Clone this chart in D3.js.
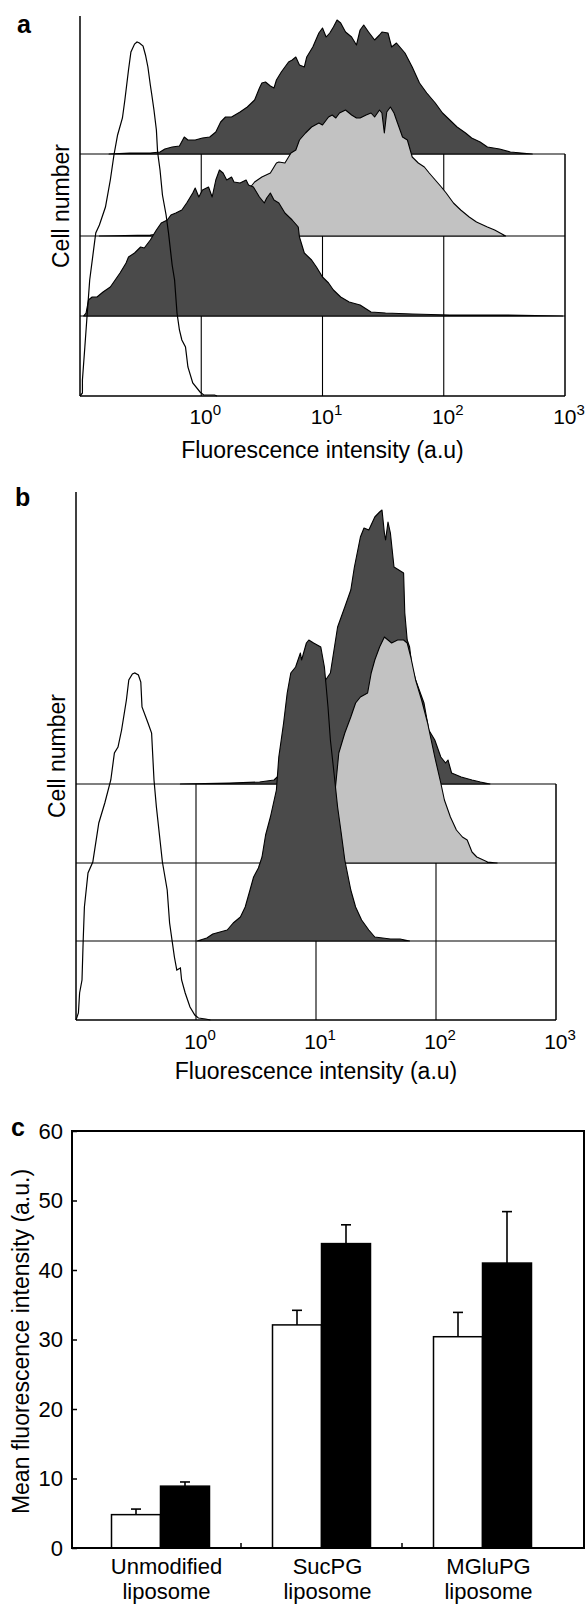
<!DOCTYPE html>
<html><head><meta charset="utf-8">
<script src="https://cdn.jsdelivr.net/npm/d3@7"></script>
<style>body{margin:0;background:#fff} svg{display:block}</style>
</head><body><svg id="fig" width="586" height="1607"></svg>
<script>
// ---------- DATA ----------
// Flow cytometry histograms: [log10 fluorescence intensity (a.u), cell count]
const histA_open = [[-1.00,0],[-0.98,3],[-0.98,16],[-0.96,49],[-0.94,83],[-0.92,116],[-0.87,163],[-0.84,171],[-0.79,189],[-0.75,216],[-0.72,241],[-0.69,261],[-0.65,278],[-0.63,296],[-0.60,326],[-0.58,344],[-0.55,352],[-0.53,354],[-0.51,353],[-0.48,350],[-0.46,341],[-0.44,329],[-0.42,311],[-0.41,303],[-0.39,286],[-0.37,266],[-0.36,244],[-0.34,226],[-0.32,201],[-0.29,181],[-0.27,163],[-0.24,131],[-0.22,116],[-0.20,83],[-0.18,66],[-0.16,56],[-0.13,49],[-0.11,29],[-0.07,13],[-0.01,4],[0.02,1],[0.11,1],[0.13,0]];
const histA_lower = [[-0.97,0],[-0.95,3],[-0.93,16],[-0.90,19],[-0.86,19],[-0.81,24],[-0.75,29],[-0.71,36],[-0.67,43],[-0.62,53],[-0.60,59],[-0.55,63],[-0.50,69],[-0.47,68],[-0.42,76],[-0.37,86],[-0.33,93],[-0.28,96],[-0.25,101],[-0.21,103],[-0.16,106],[-0.12,113],[-0.07,123],[-0.05,128],[-0.02,119],[0.01,126],[0.06,129],[0.09,119],[0.12,136],[0.15,146],[0.18,143],[0.21,136],[0.25,139],[0.27,134],[0.32,133],[0.37,136],[0.39,131],[0.43,129],[0.48,119],[0.52,113],[0.54,118],[0.57,123],[0.60,116],[0.64,113],[0.69,103],[0.75,96],[0.80,89],[0.81,79],[0.85,63],[0.91,56],[0.95,49],[1.00,39],[1.05,33],[1.09,26],[1.15,19],[1.22,14],[1.31,11],[1.40,4],[1.52,3],[1.74,2],[2.05,1],[2.46,1],[2.98,0]];
const histA_gray = [[-0.84,0],[-0.42,1],[-0.09,6],[0.15,21],[0.32,36],[0.44,54],[0.50,59],[0.57,63],[0.62,73],[0.64,74],[0.69,73],[0.74,83],[0.78,86],[0.81,96],[0.86,103],[0.91,109],[0.97,113],[1.00,111],[1.05,119],[1.08,121],[1.11,118],[1.14,123],[1.19,126],[1.24,121],[1.28,118],[1.31,118],[1.36,121],[1.40,123],[1.43,119],[1.47,126],[1.49,123],[1.51,103],[1.53,124],[1.56,129],[1.59,123],[1.61,116],[1.66,99],[1.70,96],[1.74,79],[1.79,73],[1.84,69],[1.88,63],[1.93,56],[1.98,49],[2.02,43],[2.08,33],[2.14,26],[2.21,19],[2.27,14],[2.36,9],[2.42,6],[2.48,2],[2.51,0]];
const histA_top = [[-0.76,0],[-0.59,1],[-0.42,1],[-0.34,2],[-0.30,5],[-0.24,7],[-0.18,8],[-0.14,17],[-0.11,14],[-0.05,14],[0.01,16],[0.07,17],[0.12,22],[0.16,32],[0.20,37],[0.25,37],[0.32,42],[0.38,47],[0.44,54],[0.48,66],[0.50,71],[0.53,72],[0.57,68],[0.60,66],[0.62,74],[0.66,82],[0.69,87],[0.72,92],[0.75,94],[0.78,97],[0.81,89],[0.85,87],[0.87,97],[0.92,107],[0.97,121],[1.00,126],[1.03,117],[1.06,121],[1.09,127],[1.12,134],[1.15,131],[1.19,122],[1.24,117],[1.28,109],[1.31,124],[1.34,129],[1.38,122],[1.43,114],[1.47,119],[1.49,122],[1.54,121],[1.57,107],[1.61,111],[1.68,101],[1.74,87],[1.80,71],[1.86,61],[1.93,51],[1.99,41],[2.05,34],[2.11,27],[2.18,21],[2.23,16],[2.30,12],[2.36,7],[2.46,5],[2.55,2],[2.64,1],[2.73,0]];

const histB_open = [[-1.00,0],[-0.98,7],[-0.97,27],[-0.95,40],[-0.94,80],[-0.93,113],[-0.90,147],[-0.86,158],[-0.81,197],[-0.76,217],[-0.71,240],[-0.68,267],[-0.65,273],[-0.62,290],[-0.58,320],[-0.56,340],[-0.53,346],[-0.51,347],[-0.48,345],[-0.46,338],[-0.45,313],[-0.40,297],[-0.37,287],[-0.35,240],[-0.33,213],[-0.30,180],[-0.28,158],[-0.24,130],[-0.22,97],[-0.20,80],[-0.18,63],[-0.16,50],[-0.13,52],[-0.12,40],[-0.09,27],[-0.05,13],[-0.01,5],[0.02,2],[0.08,1],[0.12,0]];
const histB_lower = [[0.01,0],[0.09,3],[0.14,7],[0.26,11],[0.31,18],[0.37,24],[0.41,34],[0.45,51],[0.48,64],[0.52,73],[0.55,84],[0.58,106],[0.62,124],[0.67,151],[0.69,184],[0.73,218],[0.76,248],[0.79,268],[0.83,274],[0.87,288],[0.88,281],[0.92,298],[0.94,301],[0.98,298],[1.01,296],[1.04,294],[1.07,274],[1.08,261],[1.10,234],[1.12,201],[1.15,168],[1.18,134],[1.21,108],[1.24,81],[1.29,51],[1.33,34],[1.38,21],[1.44,11],[1.49,4],[1.62,2],[1.70,2],[1.78,0]];
const histB_gray = [[0.70,0],[0.95,5],[1.08,23],[1.16,73],[1.19,110],[1.24,130],[1.29,146],[1.33,160],[1.37,166],[1.43,170],[1.46,190],[1.49,203],[1.53,216],[1.57,226],[1.60,223],[1.63,220],[1.68,223],[1.73,223],[1.76,220],[1.79,206],[1.83,183],[1.88,163],[1.93,140],[1.96,123],[1.99,106],[2.04,80],[2.07,63],[2.12,46],[2.17,33],[2.22,26],[2.26,23],[2.30,11],[2.34,6],[2.43,1],[2.51,0]];
const histB_top = [[-0.13,0],[0.28,1],[0.53,2],[0.65,4],[0.74,14],[0.87,44],[0.99,84],[1.08,104],[1.12,111],[1.18,157],[1.24,177],[1.29,194],[1.32,217],[1.37,247],[1.40,256],[1.44,254],[1.49,267],[1.53,272],[1.55,274],[1.57,251],[1.58,244],[1.60,262],[1.62,251],[1.65,217],[1.69,214],[1.73,211],[1.74,171],[1.76,144],[1.78,137],[1.80,117],[1.83,104],[1.90,81],[1.94,54],[1.99,44],[2.04,27],[2.08,21],[2.10,24],[2.13,11],[2.21,7],[2.30,4],[2.37,2],[2.45,0]];

const decadeExponents = [0, 1, 2, 3];

// Bar chart (panel c)
const categories = ["Unmodified liposome", "SucPG liposome", "MGluPG liposome"];
const seriesNames = ["open", "filled"];
const meansOpen = [4.8, 32.1, 30.4];
const errOpen = [0.8, 2.1, 3.5];
const meansFilled = [8.9, 43.8, 41.0];
const errFilled = [0.6, 2.7, 7.4];
const yTicksC = [0, 10, 20, 30, 40, 50, 60];

// ---------- DRAWING ----------
const FONT = '"Liberation Sans", Arial, Helvetica, sans-serif';
const DARK = "#4a4a4a", LIGHT = "#c2c2c2";
const svg = d3.select("#fig").style("font-family", FONT);

function histPanel(cfg) {
  const g = svg.append("g");
  const x = d3.scaleLog().domain([0.1, 1000]).range([cfg.x0, cfg.x1]);
  const y = d3.scaleLinear().domain([0, cfg.maxCount]).range([cfg.yBottom, cfg.yTop]);
  const topOff = cfg.offsets.top;
  // grid
  const grid = g.append("g").attr("stroke", "#000").attr("stroke-width", 1.1).attr("fill", "none");
  [cfg.offsets.lower, cfg.offsets.gray, cfg.offsets.top].forEach(o => {
    grid.append("line").attr("x1", x(0.1)).attr("x2", x(1000)).attr("y1", y(o)).attr("y2", y(o));
  });
  [1, 10, 100].forEach(v => {
    grid.append("line").attr("x1", x(v)).attr("x2", x(v)).attr("y1", y(topOff)).attr("y2", y(0));
  });
  grid.append("line").attr("x1", x(1000)).attr("x2", x(1000)).attr("y1", y(topOff)).attr("y2", y(0)).attr("stroke-width", 1.5);
  // histograms
  const mkArea = off => d3.area()
    .x(d => x(Math.pow(10, d[0])))
    .y0(y(off)).y1(d => y(off + d[1]));
  const layers = [
    [cfg.data.top, cfg.offsets.top, DARK],
    [cfg.data.gray, cfg.offsets.gray, LIGHT],
    [cfg.data.lower, cfg.offsets.lower, DARK]
  ];
  layers.forEach(([data, off, col]) => {
    g.append("path").attr("d", mkArea(off)(data)).attr("fill", col)
      .attr("stroke", "#000").attr("stroke-width", 1.1).attr("stroke-linejoin", "round");
  });
  const line = d3.line().x(d => x(Math.pow(10, d[0]))).y(d => y(d[1]));
  g.append("path").attr("d", line(cfg.data.open)).attr("fill", "none")
    .attr("stroke", "#000").attr("stroke-width", 1.2);
  // axes
  g.append("line").attr("x1", x(0.1)).attr("x2", x(0.1)).attr("y1", cfg.yTop).attr("y2", y(0))
    .attr("stroke", "#000").attr("stroke-width", 1.5);
  g.append("line").attr("x1", x(0.1)).attr("x2", x(1000)).attr("y1", y(0)).attr("y2", y(0))
    .attr("stroke", "#000").attr("stroke-width", 1.6);
  // tick labels
  const tl = g.selectAll("text.tick").data(decadeExponents).join("text")
    .attr("class", "tick")
    .attr("x", d => x(Math.pow(10, d)) + 4)
    .attr("y", cfg.tickY)
    .attr("text-anchor", "middle").attr("font-size", 21).attr("fill", "#000");
  tl.append("tspan").text("10");
  tl.append("tspan").text(d => d).attr("font-size", 15).attr("dy", -9);
  // axis titles
  g.append("text").attr("x", x(10)).attr("y", cfg.titleY).attr("text-anchor", "middle")
    .attr("font-size", 23).text("Fluorescence intensity (a.u)");
  g.append("text").attr("transform", `translate(${cfg.yTitleX},${(cfg.yTop + y(0)) / 2}) rotate(-90)`)
    .attr("text-anchor", "middle").attr("font-size", 23).text("Cell number");
  g.append("text").attr("x", cfg.letterX).attr("y", cfg.letterY).attr("font-size", 25)
    .attr("font-weight", "bold").text(cfg.letter);
}

histPanel({
  letter: "a", letterX: 17, letterY: 33,
  x0: 80, x1: 565, yBottom: 396, yTop: 16, maxCount: 380,
  offsets: { open: 0, lower: 80, gray: 160, top: 242 },
  data: { open: histA_open, lower: histA_lower, gray: histA_gray, top: histA_top },
  tickY: 424, titleY: 458, yTitleX: 69
});
histPanel({
  letter: "b", letterX: 15, letterY: 506,
  x0: 76, x1: 556, yBottom: 1020, yTop: 492, maxCount: 528,
  offsets: { open: 0, lower: 79, gray: 157, top: 236 },
  data: { open: histB_open, lower: histB_lower, gray: histB_gray, top: histB_top },
  tickY: 1049, titleY: 1079, yTitleX: 65
});

// ---------- Panel c ----------
(function () {
  const g = svg.append("g");
  const left = 72, right = 584, top = 1131, bottom = 1548;
  const y = d3.scaleLinear().domain([0, 60]).range([bottom, top]);
  const x0 = d3.scaleBand().domain(categories).range([80, 563]);
  const barW = 49;
  const x1 = d3.scaleBand().domain(seriesNames).range([0, 2 * barW]);
  const rows = categories.map((c, i) => ({
    c, vals: [
      { s: "open", v: meansOpen[i], e: errOpen[i] },
      { s: "filled", v: meansFilled[i], e: errFilled[i] }
    ]
  }));
  const grp = g.selectAll("g.grp").data(rows).join("g").attr("class", "grp")
    .attr("transform", d => `translate(${x0(d.c) + x0.bandwidth() / 2 - barW},0)`);
  grp.selectAll("g.err").data(d => d.vals).join("g").attr("class", "err").each(function (d) {
    const cx = x1(d.s) + barW / 2;
    const s = d3.select(this).attr("stroke", "#000").attr("stroke-width", 1.6);
    s.append("line").attr("x1", cx).attr("x2", cx).attr("y1", y(d.v)).attr("y2", y(d.v + d.e));
    s.append("line").attr("x1", cx - 5).attr("x2", cx + 5).attr("y1", y(d.v + d.e)).attr("y2", y(d.v + d.e));
  });
  grp.selectAll("rect").data(d => d.vals).join("rect")
    .attr("x", d => x1(d.s)).attr("width", barW)
    .attr("y", d => y(d.v)).attr("height", d => y(0) - y(d.v))
    .attr("fill", d => d.s === "open" ? "#fff" : "#000")
    .attr("stroke", "#000").attr("stroke-width", 1.5);
  g.append("rect").attr("x", left).attr("y", top).attr("width", right - left).attr("height", bottom - top)
    .attr("fill", "none").attr("stroke", "#000").attr("stroke-width", 2);
  const ax = g.append("g").attr("transform", `translate(${left},0)`)
    .call(d3.axisLeft(y).tickValues(yTicksC).tickSizeInner(-5).tickSizeOuter(0).tickPadding(9));
  ax.select(".domain").remove();
  ax.selectAll("line").attr("stroke-width", 1.5);
  ax.selectAll("text").attr("font-size", 22).attr("font-family", FONT).attr("fill", "#000");
  g.selectAll("line.sep").data(categories.slice(1)).join("line").attr("class", "sep")
    .attr("x1", d => x0(d)).attr("x2", d => x0(d)).attr("y1", bottom).attr("y2", bottom - 5)
    .attr("stroke", "#000").attr("stroke-width", 1.5);
  const lab = g.selectAll("text.cat").data(categories).join("text").attr("class", "cat")
    .attr("text-anchor", "middle").attr("font-size", 22)
    .attr("transform", d => `translate(${x0(d) + x0.bandwidth() / 2 + 6},${bottom + 26})`);
  lab.append("tspan").attr("x", 0).text(d => d.split(" ")[0]);
  lab.append("tspan").attr("x", 0).attr("dy", 25).text(d => d.split(" ")[1]);
  g.append("text").attr("transform", `translate(29,${(top + bottom) / 2 + 2}) rotate(-90)`)
    .attr("text-anchor", "middle").attr("font-size", 23).text("Mean fluorescence intensity (a.u.)");
  g.append("text").attr("x", 11).attr("y", 1136).attr("font-size", 25).attr("font-weight", "bold").text("c");
})();
</script></body></html>
